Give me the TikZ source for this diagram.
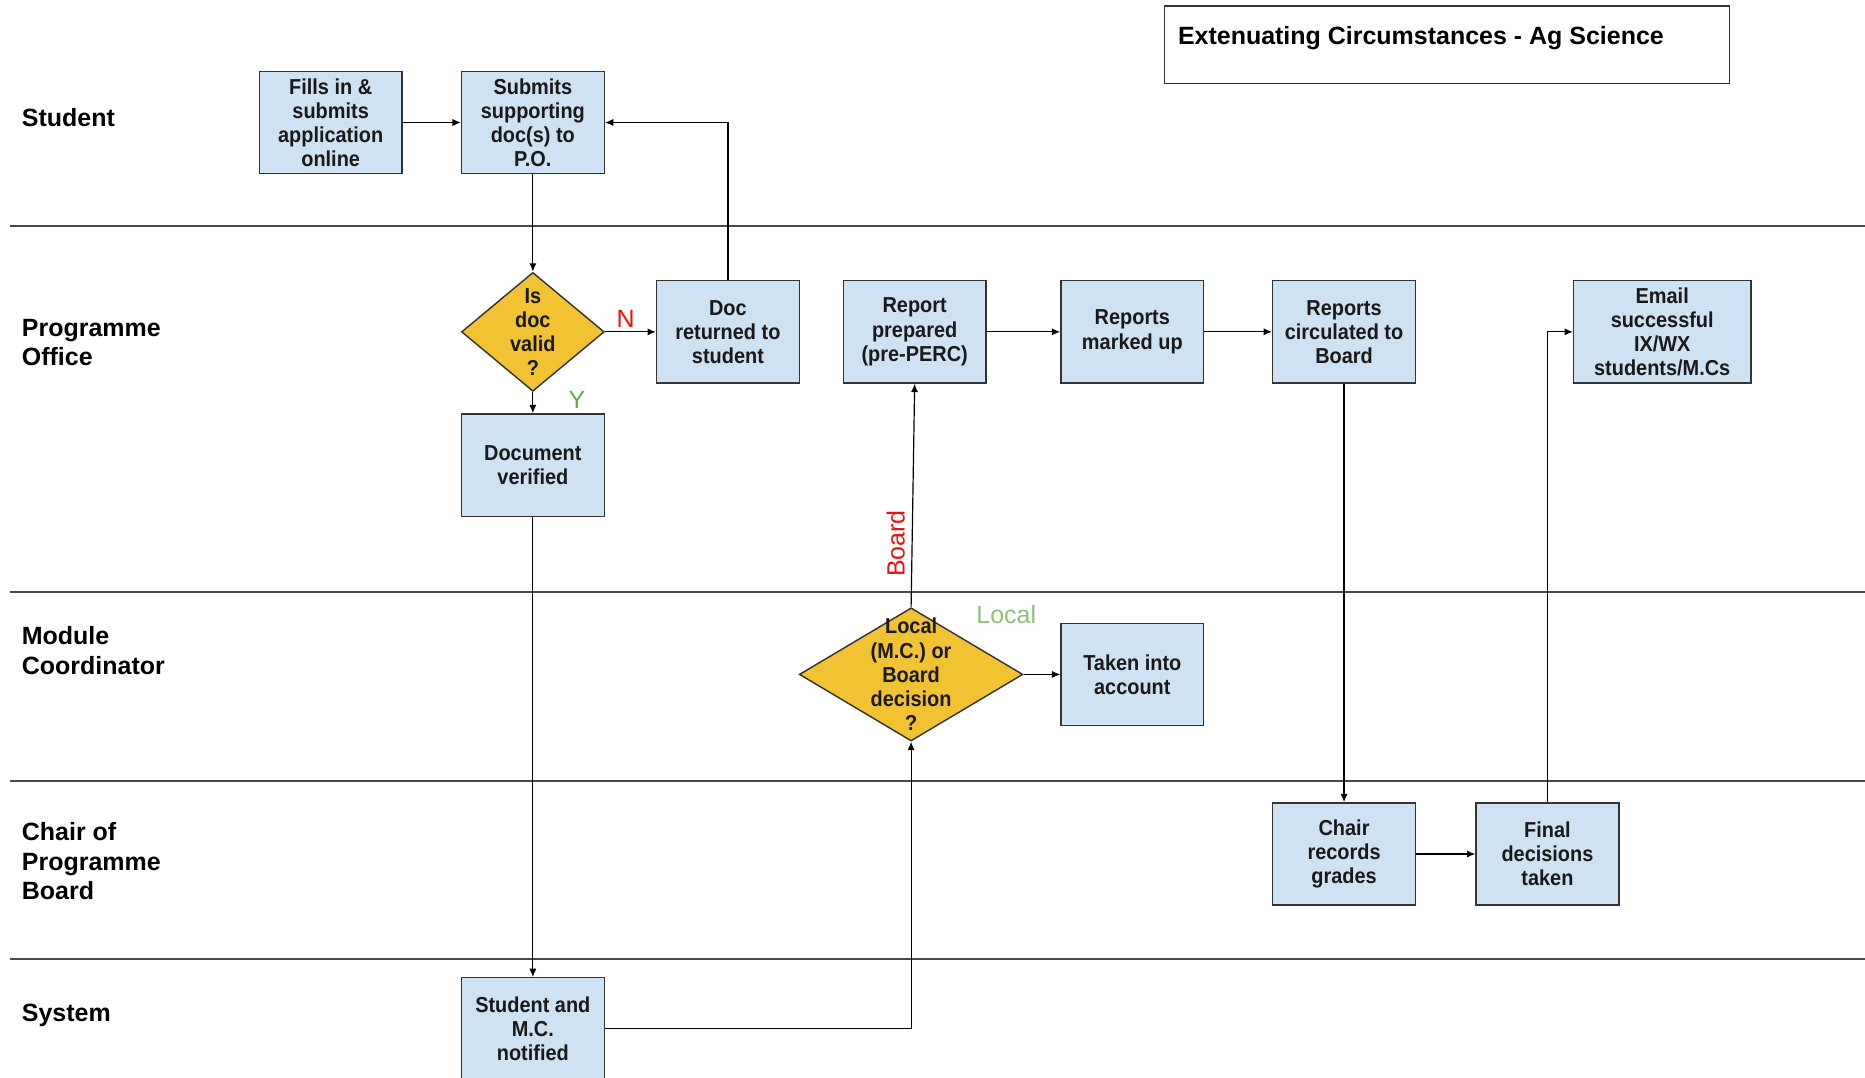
\documentclass[tikz,border=0pt]{standalone}
\usepackage{fontspec}
\setmainfont{Liberation Sans}
\newfontfamily\boxfont[FakeStretch=0.92]{Liberation Sans}
\usetikzlibrary{shapes.geometric,arrows.meta}
\definecolor{boxblue}{HTML}{CFE2F3}
\definecolor{diayellow}{HTML}{F1C232}
\definecolor{noRed}{HTML}{E8130F}
\definecolor{yesGreen}{HTML}{6AA84F}
\definecolor{localGreen}{HTML}{8DC07A}
\definecolor{laneGray}{HTML}{4A4A4A}
\definecolor{borderGray}{HTML}{333333}
\begin{document}
\begin{tikzpicture}[x=0.5pt,y=-0.5pt,
  boxtext/.style={align=center, text=black!90, font=\boxfont\bfseries\fontsize{9.1}{10.15}\selectfont},
  procbox/.style={boxtext, draw=borderGray, line width=0.6pt, fill=boxblue, minimum width=60pt, minimum height=43pt, inner sep=0pt},
  decision/.style={diamond, draw=borderGray, line width=0.6pt, fill=diayellow, inner sep=0pt},
  lanelabel/.style={anchor=west, align=left, inner sep=0pt, font=\bfseries\fontsize{10.5}{12.5}\selectfont},
  laneline/.style={draw=laneGray, line width=0.85pt},
  conn/.style={draw=black, line width=0.5pt, -{Latex[length=3.5pt,width=3pt]}},
  branch/.style={inner sep=0pt, font=\fontsize{10.5}{12}\selectfont}
]
\useasboundingbox (0,0) rectangle (1568,906);

% title
\node[draw=borderGray, line width=0.6pt, minimum width=237.5pt, minimum height=32.5pt, inner sep=0pt] (titlebox) at (1216.5,37.5) {};
\node[anchor=west, inner sep=0pt, font=\bfseries\fontsize{10.5}{12}\selectfont] (title) at (990,32) {Extenuating Circumstances - Ag Science};

% lane separators
\coordinate (l1a) at (8,190); \coordinate (l1b) at (1568,190);
\coordinate (l2a) at (8,498); \coordinate (l2b) at (1568,498);
\coordinate (l3a) at (8,657); \coordinate (l3b) at (1568,657);
\coordinate (l4a) at (8,806); \coordinate (l4b) at (1568,806);
\draw[laneline] (l1a) -- (l1b);
\draw[laneline] (l2a) -- (l2b);
\draw[laneline] (l3a) -- (l3b);
\draw[laneline] (l4a) -- (l4b);

% lane labels
\node[lanelabel] (lstudent) at (18,99) {Student};
\node[lanelabel] (lpo) at (18,288) {Programme\\Office};
\node[lanelabel] (lmc) at (18,547) {Module\\Coordinator};
\node[lanelabel] (lchair) at (18,724) {Chair of\\Programme\\Board};
\node[lanelabel] (lsys) at (18,854) {System};

% process boxes
\node[procbox] (fills) at (278,103) {Fills in \&\\submits\\application\\online};
\node[procbox] (submits) at (448,103) {Submits\\supporting\\doc(s) to\\P.O.};
\node[procbox] (docret) at (612,279) {Doc\\returned to\\student};
\node[procbox] (docver) at (448,391) {Document\\verified};
\node[procbox] (report) at (769,279) {Report\\prepared\\(pre-PERC)};
\node[procbox] (marked) at (952,279) {Reports\\marked up};
\node[procbox] (circ) at (1130,279) {Reports\\circulated to\\Board};
\node[procbox, minimum width=74.5pt] (email) at (1397.5,279) {Email\\successful\\IX/WX\\students/M.Cs};
\node[procbox] (taken) at (952,567) {Taken into\\account};
\node[procbox] (chair) at (1130,718) {Chair\\records\\grades};
\node[procbox] (final) at (1301,718) {Final\\decisions\\taken};
\node[procbox] (notified) at (448,865) {Student and\\M.C.\\notified};

% decisions
\node[decision, minimum width=60pt, minimum height=50pt] (isdoc) at (448,279) {};
\node[boxtext] (isdoctext) at (isdoc) {Is\\doc\\valid\\?};
\node[decision, minimum width=94pt, minimum height=56pt] (local) at (766,567) {};
\node[boxtext] (localtext) at (local) {Local\\(M.C.) or\\Board\\decision\\?};

% connectors
\draw[conn] (fills) -- (submits);
\draw[conn] (submits) -- (isdoc);
\draw[conn] (isdoc) -- (docret);
\draw[conn] (docret.north) |- (submits.east);
\draw[conn] (isdoc) -- (docver);
\draw[conn] (docver) -- (notified);
\draw[conn] (notified.east) -| (local.south);
\draw[conn] (local.north) -- (report.south);
\draw[conn] (local) -- (taken);
\draw[conn] (report) -- (marked);
\draw[conn] (marked) -- (circ);
\draw[conn] (circ) -- (chair);
\draw[conn] (chair) -- (final);
\draw[conn] (final.north) |- (email.west);

% branch labels
\node[branch, text=noRed] (nlab) at (526,268) {N};
\node[branch, text=yesGreen] (ylab) at (485,336) {Y};
\node[branch, text=noRed, rotate=90] (boardlab) at (753,457) {Board};
\node[branch, text=localGreen] (locallab) at (846,517) {Local};
\end{tikzpicture}
\end{document}
